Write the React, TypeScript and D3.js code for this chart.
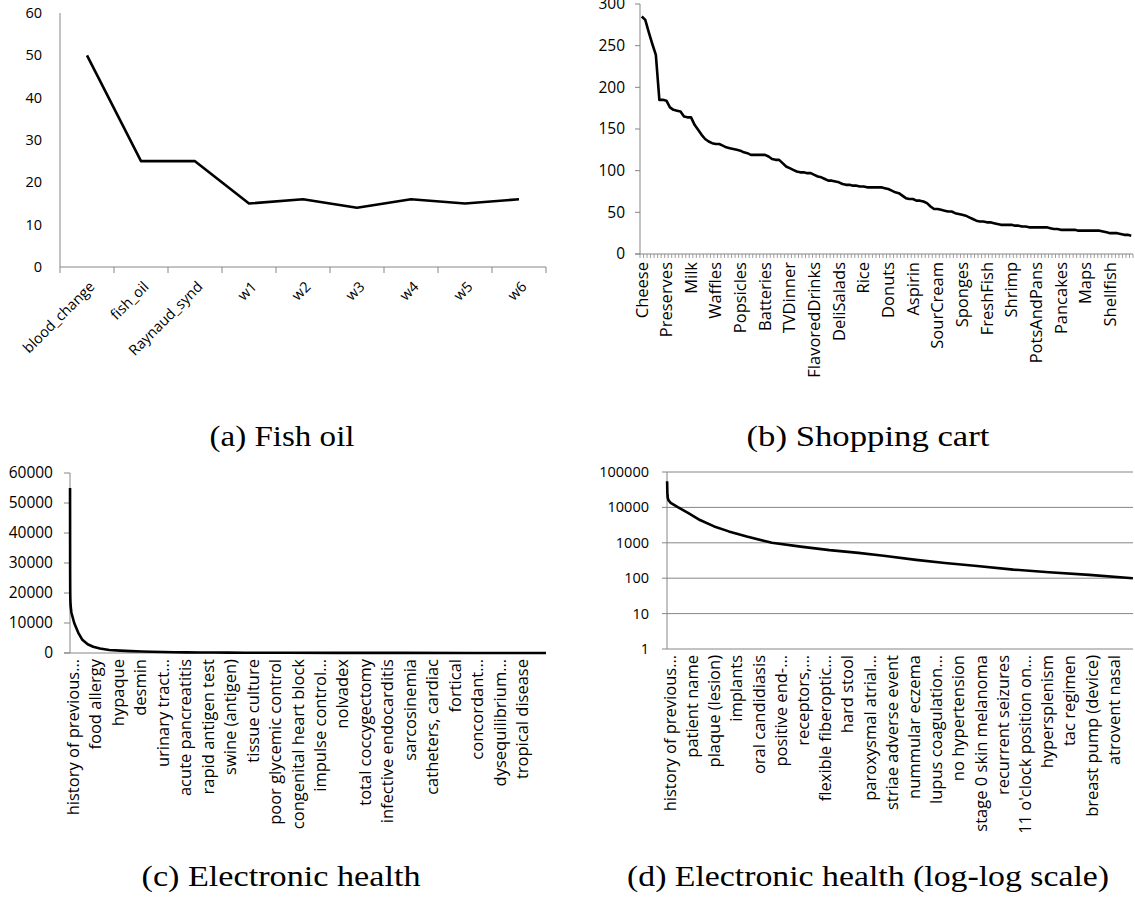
import React from "react";
import * as d3 from "d3";

// ---------- data ----------
const fishCategories = ["blood_change", "fish_oil", "Raynaud_synd", "w1", "w2", "w3", "w4", "w5", "w6"];
const fishValues = [50, 25, 25, 15, 16, 14, 16, 15, 16];
const fishTicks = [0, 10, 20, 30, 40, 50, 60];

const cartLabels = ["Cheese", "Preserves", "Milk", "Waffles", "Popsicles", "Batteries", "TVDinner", "FlavoredDrinks", "DeliSalads", "Rice", "Donuts", "Aspirin", "SourCream", "Sponges", "FreshFish", "Shrimp", "PotsAndPans", "Pancakes", "Maps", "Shellfish"];
const cartLabelStep = 7;
const cartValues = [
  285, 281, 266, 252, 239, 185, 185, 184, 176, 173,
  172, 171, 165, 164, 164, 155, 149, 143, 138, 135,
  133, 132, 132, 130, 128, 127, 126, 125, 124, 122,
  121, 119, 119, 119, 119, 119, 117, 114, 113, 113,
  109, 105, 103, 101, 99, 98, 98, 97, 97, 95,
  93, 92, 90, 88, 88, 87, 86, 84, 83, 83,
  82, 82, 81, 81, 80, 80, 80, 80, 80, 79,
  78, 76, 74, 73, 70, 67, 66, 66, 64, 64,
  63, 61, 57, 54, 54, 53, 52, 51, 51, 49,
  48, 47, 46, 44, 42, 40, 39, 39, 38, 38,
  37, 36, 35, 35, 35, 35, 34, 34, 33, 33,
  32, 32, 32, 32, 32, 32, 31, 30, 30, 29,
  29, 29, 29, 29, 28, 28, 28, 28, 28, 28,
  28, 27, 26, 25, 25, 25, 24, 23, 23, 22,
];
const cartTicks = [0, 50, 100, 150, 200, 250, 300];

// electronic health: concept frequency by rank
const ehrRanks = [0, 1, 2, 3, 6, 16, 50, 98, 148, 212, 278, 359, 472, 602, 732, 862, 976, 1122, 1252, 1397, 1560, 1721, 1902, 2099, 2600, 3200, 4000, 4800, 5719];
const ehrCounts = [55000, 27500, 21000, 18500, 16000, 13500, 10000, 6800, 4400, 2900, 2100, 1500, 1000, 780, 620, 520, 430, 330, 270, 220, 175, 148, 124, 100, 75, 50, 30, 15, 6];
const ehrCountLinear = 5720;
const ehrStepLinear = 270;
const ehrCountLog = 2100;
const ehrStepLog = 100;
const ehrLinearLabels = ["history of previous…", "food allergy", "hypaque", "desmin", "urinary tract…", "acute pancreatitis", "rapid antigen test", "swine (antigen)", "tissue culture", "poor glycemic control", "congenital heart block", "impulse control…", "nolvadex", "total coccygectomy", "infective endocarditis", "sarcosinemia", "catheters, cardiac", "fortical", "concordant…", "dysequilibrium…", "tropical disease"];
const ehrLogLabels = ["history of previous…", "patient name", "plaque (lesion)", "implants", "oral candidiasis", "positive end-…", "receptors,…", "flexible fiberoptic…", "hard stool", "paroxysmal atrial…", "striae adverse event", "nummular eczema", "lupus coagulation…", "no hypertension", "stage 0 skin melanoma", "recurrent seizures", "11 o'clock position on…", "hypersplenism", "tac regimen", "breast pump (device)", "atrovent nasal"];
const ehrLinearTicks = [0, 10000, 20000, 30000, 40000, 50000, 60000];
const ehrLogTicks = [1, 10, 100, 1000, 10000, 100000];

const captions = ["(a) Fish oil", "(b) Shopping cart", "(c) Electronic health", "(d) Electronic health (log-log scale)"];

// ---------- style ----------
const FONT = "'Open Sans', sans-serif";
const AXIS = "#868686";
const LINE_W = 2.6;
const CAT_FS = 16.5;

function FishPanel() {
  const x = d3.scaleBand().domain(fishCategories).range([60, 546]);
  const y = d3.scaleLinear().domain([0, 60]).range([267, 13]);
  const bw = x.bandwidth();
  const line = d3.line<number>().x((_, i) => (x(fishCategories[i]) as number) + bw / 2).y((v) => y(v));
  return (
    <g>
      <line x1={60} x2={60} y1={y(60)} y2={y(0)} stroke={AXIS} />
      <line x1={60} x2={546} y1={y(0)} y2={y(0)} stroke={AXIS} />
      {d3.range(fishCategories.length + 1).map((i) => (
        <line key={i} x1={60 + i * bw} x2={60 + i * bw} y1={y(0)} y2={y(0) + 6} stroke={AXIS} />
      ))}
      {fishTicks.map((t) => (
        <text key={t} x={42} y={y(t)} dy="0.35em" textAnchor="end" fontFamily={FONT} fontSize={14.5}>{t}</text>
      ))}
      {fishCategories.map((c) => {
        const cx = (x(c) as number) + bw / 2;
        return (
          <text key={c} transform={`translate(${cx + 5},${y(0) + 17}) rotate(-45)`} dy="0.35em" textAnchor="end" fontFamily={FONT} fontSize={14.5}>{c}</text>
        );
      })}
      <path d={line(fishValues) || ""} fill="none" stroke="#000" strokeWidth={LINE_W} strokeLinejoin="round" />
    </g>
  );
}

function CartPanel() {
  const n = cartValues.length;
  const x0 = 640, x1 = 1133;
  const x = d3.scaleBand<number>().domain(d3.range(n)).range([x0, x1]);
  const bw = x.bandwidth();
  const y = d3.scaleLinear().domain([0, 300]).range([254, 4]);
  const line = d3.line<number>().x((_, i) => (x(i) as number) + bw / 2).y((v) => y(v));
  return (
    <g>
      <line x1={x0} x2={x0} y1={y(300)} y2={y(0)} stroke={AXIS} />
      <line x1={x0 - 5} x2={x1} y1={y(0)} y2={y(0)} stroke={AXIS} />
      {cartTicks.map((t) => (
        <g key={t}>
          <line x1={x0 - 5} x2={x0} y1={y(t)} y2={y(t)} stroke={AXIS} />
          <text x={625} y={y(t)} dy="0.35em" textAnchor="end" fontFamily={FONT} fontSize={15.5}>{t}</text>
        </g>
      ))}
      {d3.range(n + 1).map((i) => (
        <line key={i} x1={x0 + i * bw} x2={x0 + i * bw} y1={y(0)} y2={y(0) + 4} stroke={AXIS} strokeWidth={0.8} />
      ))}
      {cartLabels.map((c, j) => {
        const cx = (x(j * cartLabelStep) as number) + bw / 2;
        return (
          <text key={c} transform={`translate(${cx},${y(0) + 8}) rotate(-90)`} dy="0.35em" textAnchor="end" fontFamily={FONT} fontSize={CAT_FS}>{c}</text>
        );
      })}
      <path d={line(cartValues) || ""} fill="none" stroke="#000" strokeWidth={LINE_W} strokeLinejoin="round" />
    </g>
  );
}

function EhrLinearPanel() {
  const x0 = 70, x1 = 546;
  const x = d3.scaleLinear().domain([-0.5, ehrCountLinear - 0.5]).range([x0, x1]);
  const y = d3.scaleLinear().domain([0, 60000]).range([653, 473]);
  const pts = ehrRanks.map((r, i) => [r, ehrCounts[i]] as [number, number]);
  const line = d3.line<[number, number]>().x((d) => x(d[0])).y((d) => y(d[1]));
  return (
    <g>
      <line x1={x0} x2={x0} y1={y(60000)} y2={y(0)} stroke={AXIS} />
      <line x1={x0 - 6} x2={x1} y1={y(0)} y2={y(0)} stroke={AXIS} />
      {ehrLinearTicks.map((t) => (
        <g key={t}>
          <line x1={x0 - 6} x2={x0} y1={y(t)} y2={y(t)} stroke={AXIS} />
          <text x={53} y={y(t)} dy="0.35em" textAnchor="end" fontFamily={FONT} fontSize={15.5}>{t}</text>
        </g>
      ))}
      {ehrLinearLabels.map((c, j) => (
        <text key={c} transform={`translate(${x(j * ehrStepLinear) + 3},${y(0) + 6}) rotate(-90)`} dy="0.35em" textAnchor="end" fontFamily={FONT} fontSize={CAT_FS}>{c}</text>
      ))}
      <path d={line(pts) || ""} fill="none" stroke="#000" strokeWidth={LINE_W} strokeLinejoin="round" />
    </g>
  );
}

function EhrLogPanel() {
  const x0 = 667, x1 = 1133;
  const x = d3.scaleLinear().domain([-0.5, ehrCountLog - 0.5]).range([x0, x1]);
  const y = d3.scaleLog().domain([1, 100000]).range([649, 472]);
  const pts = ehrRanks.map((r, i) => [r, ehrCounts[i]] as [number, number]).filter((d) => d[0] < ehrCountLog);
  const line = d3.line<[number, number]>().x((d) => x(d[0])).y((d) => y(d[1]));
  return (
    <g>
      {ehrLogTicks.map((t) => (
        <g key={t}>
          <line x1={x0 - 5} x2={x1} y1={y(t)} y2={y(t)} stroke={AXIS} />
          <text x={649} y={y(t)} dy="0.35em" textAnchor="end" fontFamily={FONT} fontSize={14.5}>{t}</text>
        </g>
      ))}
      <line x1={x0} x2={x0} y1={y(100000)} y2={y(1)} stroke={AXIS} />
      {ehrLogLabels.map((c, j) => (
        <text key={c} transform={`translate(${x(j * ehrStepLog) + 3},${y(1) + 6}) rotate(-90)`} dy="0.35em" textAnchor="end" fontFamily={FONT} fontSize={CAT_FS}>{c}</text>
      ))}
      <path d={line(pts) || ""} fill="none" stroke="#000" strokeWidth={LINE_W} strokeLinejoin="round" />
    </g>
  );
}

export default function App() {
  const capPos = [
    [282, 446, 145],
    [868, 446, 243],
    [281, 886, 279],
    [868, 886, 482],
  ];
  return (
    <svg width={1135} height={905} style={{ position: "absolute", left: 0, top: 0, background: "#fff" }}>
      <rect width={1135} height={905} fill="#fff" />
      <FishPanel />
      <CartPanel />
      <EhrLinearPanel />
      <EhrLogPanel />
      {captions.map((c, i) => (
        <text key={c} x={capPos[i][0]} y={capPos[i][1]} textAnchor="middle" fontFamily="'Liberation Serif', serif" fontSize={29} textLength={capPos[i][2]} lengthAdjust="spacingAndGlyphs">{c}</text>
      ))}
    </svg>
  );
}
